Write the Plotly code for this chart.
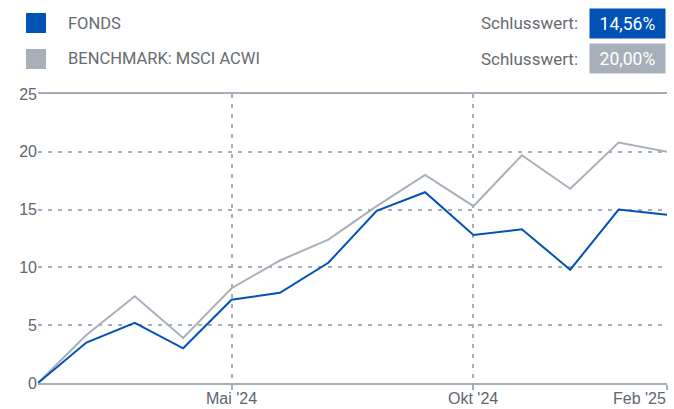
import plotly.graph_objects as go

# ---- data ----
months = ["Jan '24", "Feb '24", "Mär '24", "Apr '24", "Mai '24", "Jun '24", "Jul '24",
          "Aug '24", "Sep '24", "Okt '24", "Nov '24", "Dez '24", "Jan '25", "Feb '25"]
fonds = [0, 3.5, 5.2, 3.0, 7.2, 7.8, 10.4, 14.9, 16.5, 12.8, 13.3, 9.8, 15.0, 14.56]
benchmark = [0, 4.15, 7.5, 3.9, 8.2, 10.6, 12.4, 15.3, 18.0, 15.3, 19.7, 16.8, 20.8, 20.0]
series_names = ["FONDS", "BENCHMARK: MSCI ACWI"]
tick_months = ["Mai '24", "Okt '24", "Feb '25"]
y_ticks = [0, 5, 10, 15, 20, 25]

BLUE = "#0052B4"
GRAY = "#A7B0BA"
GRID = "#A5AEB9"
TXT = "#5E6670"

W, H = 674, 409
L, R, T, B = 38, 7, 94, 26
pw, ph = W - L - R, H - T - B

def px(x):
    return (x - L) / pw

def py(y):
    return (H - B - y) / ph

xs = list(range(len(months)))
tick_idx = [months.index(m) for m in tick_months]

fig = go.Figure()
fig.add_trace(go.Scatter(x=xs, y=benchmark, mode="lines", name=series_names[1],
                         line=dict(color=GRAY, width=2)))
fig.add_trace(go.Scatter(x=xs, y=fonds, mode="lines", name=series_names[0],
                         line=dict(color=BLUE, width=2)))

fig.update_layout(
    width=W, height=H,
    margin=dict(l=L, r=R, t=T, b=B, autoexpand=False),
    paper_bgcolor="white", plot_bgcolor="white",
    showlegend=False,
    font=dict(family="Liberation Sans, Arial, sans-serif", color=TXT, size=16),
)

fig.update_xaxes(
    automargin=False,
    range=[0, len(months) - 1],
    tickmode="array", tickvals=tick_idx,
    showticklabels=False,
    ticks="outside", ticklen=5, tickcolor=GRID, tickwidth=1.5,
    showgrid=False,
    showline=True, linecolor=GRID, linewidth=2, mirror=True,
    zeroline=False,
    minor=dict(tickmode="array", tickvals=[0] + tick_idx[:2], showgrid=True,
               gridcolor=GRID, gridwidth=1.8, griddash="4px,6px", ticks=""),
)
fig.update_yaxes(
    automargin=False,
    range=[0, 25], tickmode="array", tickvals=y_ticks,
    showgrid=True, gridcolor=GRID, gridwidth=1.8, griddash="4px,6px",
    zeroline=False, showline=False, ticks="",
    tickfont=dict(size=16, color=TXT),
)

# x tick labels (last one right-aligned at the plot edge)
for i, (xi, lab) in enumerate(zip(tick_idx, tick_months)):
    last = i == len(tick_months) - 1
    fig.add_annotation(x=xi, y=0, xref="x", yref="y", text=lab,
                       showarrow=False, xanchor="right" if last else "center",
                       yanchor="top", yshift=-5, xshift=1 if last else 0,
                       font=dict(size=16, color=TXT))

# custom legend rows
rows = [(series_names[0], BLUE, fonds[-1], 23), (series_names[1], GRAY, benchmark[-1], 59)]
for name, col, lastv, yc in rows:
    fig.add_shape(type="rect", xref="paper", yref="paper",
                  x0=px(26), x1=px(46), y0=py(yc - 10), y1=py(yc + 10),
                  fillcolor=col, line=dict(width=0))
    fig.add_annotation(x=px(66), y=py(yc), xref="paper", yref="paper", text=name,
                       showarrow=False, xanchor="left", yanchor="middle",
                       font=dict(family="Roboto, sans-serif", size=16.5, color="#666B70"))
    fig.add_annotation(x=px(580), y=py(yc), xref="paper", yref="paper", text="Schlusswert:",
                       showarrow=False, xanchor="right", yanchor="middle",
                       font=dict(family="Roboto, sans-serif", size=17, color="#666B70"))
    val = f"{lastv:.2f}".replace(".", ",") + "%"
    fig.add_annotation(x=px(589), y=py(yc), xref="paper", yref="paper", text=val,
                       showarrow=False, xanchor="left", yanchor="middle",
                       width=75, height=29, borderpad=0, bgcolor=col, align="center",
                       font=dict(family="Roboto, sans-serif", size=17.5, color="white"))

fig.write_html("out.html")
